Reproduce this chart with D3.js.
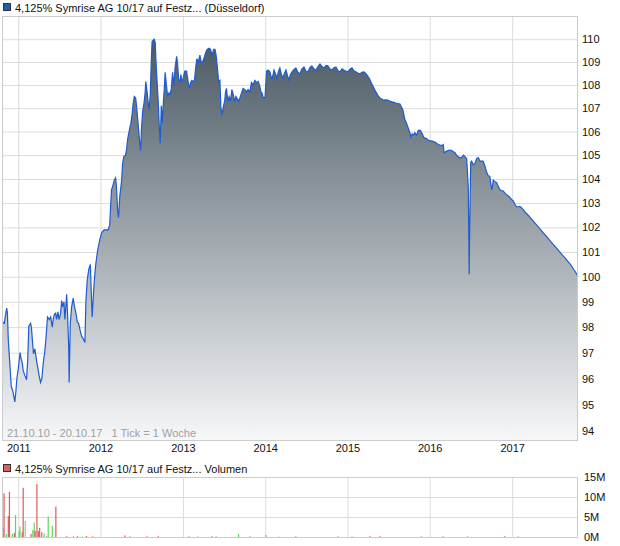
<!DOCTYPE html>
<html>
<head>
<meta charset="utf-8">
<script src="https://cdn.jsdelivr.net/npm/d3@7"></script>
<style>
  body { margin: 0; background: #fff; }
  svg text { font-family: "Liberation Sans", Arial, sans-serif; }
</style>
</head>
<body>
<div id="chart"></div>
<script>
// Price data (weekly ticks)
var priceDates = [
  "2010-10-21","2010-10-24","2010-10-31","2010-11-07","2010-11-11","2010-11-14","2010-11-18","2010-11-26","2010-12-01","2010-12-07",
  "2010-12-14","2010-12-17","2010-12-22","2010-12-26","2011-01-01","2011-01-09","2011-01-13","2011-01-19","2011-01-23","2011-01-31",
  "2011-02-07","2011-02-12","2011-02-17","2011-02-25","2011-03-01","2011-03-06","2011-03-10","2011-03-16","2011-03-24","2011-03-29",
  "2011-04-04","2011-04-10","2011-04-16","2011-04-22","2011-04-29","2011-05-04","2011-05-11","2011-05-19","2011-05-25","2011-06-01",
  "2011-06-05","2011-06-10","2011-06-16","2011-06-20","2011-06-26","2011-07-01","2011-07-08","2011-07-13","2011-07-17","2011-07-23",
  "2011-07-27","2011-08-04","2011-08-08","2011-08-13","2011-08-15","2011-08-20","2011-08-26","2011-09-02","2011-09-08","2011-09-14",
  "2011-09-20","2011-09-26","2011-10-02","2011-10-09","2011-10-16","2011-10-24","2011-10-28","2011-11-03","2011-11-10","2011-11-17",
  "2011-11-25","2011-12-04","2011-12-11","2011-12-20","2011-12-29","2012-01-07","2012-01-17","2012-02-04","2012-02-11","2012-02-14",
  "2012-02-19","2012-02-26","2012-03-02","2012-03-08","2012-03-12","2012-03-17","2012-03-21","2012-03-27","2012-04-04","2012-04-08",
  "2012-04-14","2012-04-21","2012-04-26","2012-04-30","2012-05-06","2012-05-11","2012-05-15","2012-05-21","2012-05-25","2012-05-30",
  "2012-06-05","2012-06-09","2012-06-14","2012-06-18","2012-06-24","2012-06-27","2012-07-01","2012-07-06","2012-07-12","2012-07-17",
  "2012-07-20","2012-07-26","2012-07-31","2012-08-04","2012-08-09","2012-08-13","2012-08-17","2012-08-26","2012-08-31","2012-09-03",
  "2012-09-07","2012-09-13","2012-09-18","2012-09-22","2012-09-27","2012-10-01","2012-10-05","2012-10-10","2012-10-14","2012-10-20",
  "2012-10-25","2012-10-31","2012-11-04","2012-11-10","2012-11-16","2012-11-22","2012-11-27","2012-12-04","2012-12-08","2012-12-13",
  "2012-12-18","2012-12-23","2012-12-27","2013-01-02","2013-01-09","2013-01-17","2013-01-23","2013-01-29","2013-02-04","2013-02-09",
  "2013-02-15","2013-02-21","2013-02-27","2013-03-04","2013-03-09","2013-03-17","2013-03-23","2013-03-29","2013-04-04","2013-04-11",
  "2013-04-18","2013-04-27","2013-05-03","2013-05-11","2013-05-17","2013-05-23","2013-05-28","2013-06-04","2013-06-08","2013-06-14",
  "2013-06-18","2013-06-23","2013-06-28","2013-07-05","2013-07-09","2013-07-13","2013-07-19","2013-07-25","2013-07-31","2013-08-06",
  "2013-08-12","2013-08-18","2013-08-24","2013-08-30","2013-09-05","2013-09-11","2013-09-18","2013-09-25","2013-10-03","2013-10-10",
  "2013-10-17","2013-10-25","2013-11-01","2013-11-08","2013-11-16","2013-11-24","2013-12-01","2013-12-08","2013-12-13","2013-12-18",
  "2013-12-23","2013-12-31","2014-01-07","2014-01-14","2014-01-22","2014-01-31","2014-02-09","2014-02-15","2014-02-22","2014-03-01",
  "2014-03-07","2014-03-14","2014-03-21","2014-03-27","2014-04-03","2014-04-10","2014-04-16","2014-04-23","2014-04-30","2014-05-08",
  "2014-05-17","2014-05-26","2014-06-04","2014-06-13","2014-06-22","2014-07-01","2014-07-10","2014-07-18","2014-07-27","2014-08-05",
  "2014-08-14","2014-08-23","2014-09-01","2014-09-10","2014-09-19","2014-09-28","2014-10-06","2014-10-15","2014-10-24","2014-11-02",
  "2014-11-11","2014-11-20","2014-11-29","2014-12-08","2014-12-16","2014-12-25","2015-01-03","2015-01-12","2015-01-21","2015-01-29",
  "2015-02-07","2015-02-16","2015-02-25","2015-03-06","2015-03-15","2015-03-23","2015-04-01","2015-04-10","2015-04-19","2015-04-28",
  "2015-05-07","2015-05-16","2015-05-25","2015-06-03","2015-06-11","2015-06-20","2015-06-29","2015-07-08","2015-07-17","2015-07-26",
  "2015-08-04","2015-08-13","2015-08-22","2015-09-04","2015-09-13","2015-09-20","2015-10-05","2015-10-09","2015-10-15","2015-10-23",
  "2015-10-27","2015-11-04","2015-11-11","2015-11-21","2015-11-29","2015-12-06","2015-12-18","2015-12-30","2016-01-09","2016-01-24",
  "2016-02-08","2016-02-23","2016-03-01","2016-03-05","2016-03-13","2016-03-23","2016-04-07","2016-04-14","2016-04-22","2016-04-29",
  "2016-05-11","2016-05-22","2016-05-29","2016-06-05","2016-06-13","2016-06-20","2016-06-23","2016-06-24","2016-06-27","2016-07-01",
  "2016-07-05","2016-07-12","2016-07-20","2016-07-27","2016-08-03","2016-08-11","2016-08-25","2016-09-02","2016-09-09","2016-09-16",
  "2016-09-24","2016-09-28","2016-10-03","2016-10-09","2016-10-16","2016-10-24","2016-10-31","2016-11-07","2016-11-15","2016-11-22",
  "2016-11-29","2016-12-07","2016-12-14","2016-12-21","2016-12-29","2017-01-05","2017-01-13","2017-01-20","2017-01-28","2017-02-04",
  "2017-02-17","2017-03-02","2017-03-16","2017-03-29","2017-04-11","2017-04-25","2017-05-08","2017-05-21","2017-06-04","2017-06-17",
  "2017-06-30","2017-07-14","2017-07-27","2017-08-09","2017-08-23","2017-09-05","2017-09-18","2017-10-02","2017-10-11","2017-10-20"
];
var priceValues = [
  98.2, 98.2, 98.15, 98.55, 98.75, 98.55, 97.5, 96.4, 95.7, 95.55,
  95.25, 95.1, 95.55, 96.0, 96.35, 97.0, 96.8, 96.6, 96.3, 96.1,
  95.95, 96.7, 98.05, 98.15, 97.95, 97.35, 96.95, 97.15, 96.65, 96.4,
  96.1, 95.85, 96.0, 96.6, 97.05, 97.55, 98.4, 98.3, 98.4, 98.0,
  98.3, 98.5, 98.55, 98.3, 98.6, 98.3, 98.55, 99.05, 98.8, 99.0,
  98.3, 99.3, 98.5, 97.2, 95.85, 98.15, 98.8, 99.15, 98.8, 98.55,
  98.2, 98.15, 97.9, 97.65, 97.55, 97.4, 98.95, 99.85, 100.3, 100.5,
  98.4, 99.8, 100.5, 101.1, 101.5, 101.8, 101.9, 101.9, 102.1, 102.7,
  103.55, 103.75, 103.95, 104.05, 103.7, 102.7, 102.4, 103.3, 103.95, 104.65,
  104.95, 105.0, 105.25, 105.65, 105.95, 106.2, 106.35, 106.8, 107.2, 107.5,
  107.45, 107.1, 106.55, 106.1, 105.45, 105.2, 106.1, 106.85, 107.2, 107.65,
  108.15, 107.7, 107.2, 106.95, 107.6, 108.9, 109.9, 110.0, 109.85, 109.1,
  108.35, 107.35, 106.2, 105.5, 107.1, 106.35, 107.1, 107.8, 108.55, 107.95,
  107.5, 107.65, 107.6, 107.8, 108.55, 107.95, 108.75, 109.25, 108.95, 108.2,
  108.15, 108.45, 108.1, 108.3, 108.6, 108.6, 108.2, 107.85, 108.1, 108.2,
  108.15, 108.2, 108.8, 109.15, 108.95, 109.3, 109.0, 109.0, 109.15, 109.4,
  109.55, 109.6, 109.55, 109.3, 109.55, 109.55, 109.3, 108.65, 108.15, 108.2,
  107.05, 106.7, 107.0, 107.3, 107.7, 107.85, 107.3, 107.5, 107.3, 107.8,
  107.6, 107.3, 107.5, 107.4, 107.3, 107.45, 107.65, 107.85, 107.8, 107.7,
  107.8, 107.7, 108.1, 108.0, 108.2, 108.1, 108.15, 107.95, 107.7, 107.65,
  107.45, 107.45, 108.6, 108.65, 108.57, 108.22, 108.65, 108.5, 108.3, 108.6,
  108.74, 108.45, 108.3, 108.5, 108.65, 108.4, 108.22, 108.45, 108.57, 108.66,
  108.74, 108.55, 108.48, 108.7, 108.78, 108.6, 108.57, 108.75, 108.83, 108.7,
  108.65, 108.8, 108.91, 108.8, 108.74, 108.85, 108.83, 108.7, 108.65, 108.75,
  108.78, 108.62, 108.57, 108.7, 108.65, 108.6, 108.57, 108.68, 108.74, 108.62,
  108.57, 108.52, 108.48, 108.55, 108.57, 108.5, 108.39, 108.25, 108.04, 107.88,
  107.7, 107.55, 107.44, 107.38, 107.35, 107.36, 107.35, 107.3, 107.27, 107.25,
  107.22, 107.2, 107.18, 106.92, 106.5, 106.35, 105.95, 105.75, 105.9, 105.85,
  105.95, 105.85, 106.05, 106.05, 105.9, 105.75, 105.7, 105.6, 105.6, 105.55,
  105.45, 105.4, 105.45, 105.1, 105.15, 105.2, 105.2, 105.15, 105.1, 105.0,
  104.9, 104.9, 105.0, 104.95, 104.85, 103.7, 101.2, 100.1, 102.4, 104.7,
  104.75, 104.6, 104.65, 104.85, 104.9, 104.75, 104.75, 104.55, 104.3, 104.15,
  104.1, 103.8, 103.55, 103.95, 103.9, 103.85, 103.7, 103.55, 103.52, 103.5,
  103.42, 103.35, 103.3, 103.25, 103.15, 103.1, 102.95, 102.85, 102.85, 102.86,
  102.76, 102.6, 102.47, 102.33, 102.19, 102.04, 101.9, 101.76, 101.61, 101.47,
  101.33, 101.19, 101.04, 100.9, 100.76, 100.62, 100.48, 100.28, 100.16, 100.0
];

// Volume data (millions), dir: r = down, g = up, n = unchanged
var volDates = [
  "2010-10-27","2010-10-30","2010-11-09","2010-11-18","2010-11-23","2010-12-06","2010-12-15","2010-12-20","2011-01-05","2011-01-09",
  "2011-01-19","2011-01-23","2011-02-01","2011-02-27","2011-03-07","2011-03-13","2011-03-17","2011-03-25","2011-03-31","2011-04-06",
  "2011-04-15","2011-04-26","2011-05-07","2011-05-14","2011-06-01","2011-06-17","2011-08-04","2011-09-03","2011-09-21","2011-10-13",
  "2011-10-31","2011-11-27","2012-04-18","2012-05-10","2012-07-25","2012-09-14","2013-01-27","2013-03-08","2013-05-10","2013-05-28",
  "2013-09-05","2013-10-25","2014-01-04","2014-03-07","2014-05-17","2014-11-21","2015-01-21","2015-04-10","2015-05-25","2015-11-25",
  "2016-03-01","2016-06-17","2016-11-29","2017-01-28"
];
var volValues = [
  2.2, 10.9, 0.75, 5.25, 11.3, 0.75, 1.0, 5.5, 1.5, 2.6,
  1.2, 12.3, 4.0, 0.75, 1.75, 3.6, 1.5, 13.25, 1.5, 2.3,
  1.2, 0.9, 0.3, 5.1, 2.8, 7.6, 0.2, 0.15, 0.2, 0.1,
  0.25, 0.15, 0.4, 0.15, 0.2, 0.2, 0.2, 0.15, 0.2, 0.2,
  0.7, 0.15, 0.5, 0.1, 0.15, 0.15, 0.15, 0.2, 0.2, 0.15,
  0.2, 0.15, 0.2, 0.15
];
var volDir = [
  "n","r","g","r","r","g","r","g","g","g",
  "r","r","n","r","g","g","r","r","r","r",
  "r","g","n","g","g","r","r","r","r","g",
  "r","r","r","r","r","r","g","g","r","g",
  "g","r","g","g","r","r","g","r","r","r",
  "g","r","r","r"
];

var yTicks = [94, 95, 96, 97, 98, 99, 100, 101, 102, 103, 104, 105, 106, 107, 108, 109, 110];
var volTicks = [0, 5, 10, 15];
var dateRangeText = "21.10.10 - 20.10.17   1 Tick = 1 Woche";
var priceTitle = "4,125% Symrise AG 10/17 auf Festz... (Düsseldorf)";
var volTitle = "4,125% Symrise AG 10/17 auf Festz... Volumen";

var parseDate = d3.timeParse("%Y-%m-%d");
var priceData = priceDates.map(function(d, i) { return {date: parseDate(d), value: priceValues[i]}; });
var volData = volDates.map(function(d, i) { return {date: parseDate(d), value: volValues[i], dir: volDir[i]}; });

var width = 620, height = 546;
var plot = {left: 2, right: 578, top: 16, bottom: 440};
var vplot = {top: 477, bottom: 537};

var svg = d3.select('#chart')
  .append('svg')
    .attr('width', width)
    .attr('height', height);

var x = d3.scaleTime()
  .domain([parseDate("2010-10-21"), parseDate("2017-10-20")])
  .range([plot.left, plot.right]);

var y = d3.scaleLog()
  .domain([93.66, 111.03])
  .range([plot.bottom, plot.top]);

var yVol = d3.scaleLinear()
  .domain([0, 15])
  .range([vplot.bottom, vplot.top]);

// Gradient for the area
var grad = svg.append("defs").append("linearGradient")
  .attr("id", "areaGrad")
  .attr("gradientUnits", "userSpaceOnUse")
  .attr("x1", 0).attr("x2", 0)
  .attr("y1", y(110)).attr("y2", plot.bottom);
grad.append("stop").attr("offset", "0%").attr("stop-color", "#4b5a64");
grad.append("stop").attr("offset", "100%").attr("stop-color", "#f6f7f9");

// Titles
function legendTitle(ty, color, text) {
  svg.append("rect")
    .attr("x", 3.5).attr("y", ty - 8.5)
    .attr("width", 7).attr("height", 7)
    .attr("fill", color)
    .attr("stroke", "#333")
    .attr("stroke-width", 1);
  svg.append("text")
    .attr("x", 15).attr("y", ty)
    .style("font-size", "11px")
    .attr("fill", "#111")
    .text(text);
}
legendTitle(12, "#2457b8", priceTitle);
legendTitle(473, "#dd5f5a", volTitle);

// Price y axis with gridlines
var yAxis = svg.append("g")
  .attr("transform", `translate(${plot.right},0)`)
  .call(d3.axisRight(y)
    .tickValues(yTicks)
    .tickFormat(d3.format("d"))
    .tickSize(-(plot.right - plot.left))
    .tickPadding(4));
yAxis.select(".domain").remove();
yAxis.selectAll("line").attr("stroke", "#dcdcdc");
yAxis.selectAll("text").style("font-size", "11px").attr("fill", "#111");

// Price x axis with gridlines
var xAxis = svg.append("g")
  .attr("transform", `translate(0,${plot.bottom})`)
  .call(d3.axisBottom(x)
    .ticks(d3.timeYear)
    .tickFormat(d3.timeFormat("%Y"))
    .tickSize(-(plot.bottom - plot.top))
    .tickPadding(4));
xAxis.select(".domain").remove();
xAxis.selectAll("line").attr("stroke", "#dcdcdc");
xAxis.selectAll("text").style("font-size", "11px").attr("fill", "#111");

// Area + line
var area = d3.area()
  .x(d => x(d.date))
  .y0(plot.bottom)
  .y1(d => y(d.value));
var line = d3.line()
  .x(d => x(d.date))
  .y(d => y(d.value));

svg.append("path")
  .datum(priceData)
  .attr("fill", "url(#areaGrad)")
  .attr("d", area);
svg.append("path")
  .datum(priceData)
  .attr("fill", "none")
  .attr("stroke", "#1f5bd0")
  .attr("stroke-width", 1.2)
  .attr("d", line);

// Frame
svg.append("rect")
  .attr("x", plot.left + 0.5).attr("y", plot.top + 0.5)
  .attr("width", plot.right - plot.left - 1).attr("height", plot.bottom - plot.top)
  .attr("fill", "none")
  .attr("stroke", "#cccccc");

svg.append("text")
  .attr("x", 7).attr("y", 437)
  .style("font-size", "11px")
  .attr("fill", "#a0a0a0")
  .attr("xml:space", "preserve")
  .text(dateRangeText);

// Volume panel
var vyAxis = svg.append("g")
  .attr("transform", `translate(${plot.right},0)`)
  .call(d3.axisRight(yVol)
    .tickValues(volTicks)
    .tickFormat(d => d + "M")
    .tickSize(-(plot.right - plot.left))
    .tickPadding(6));
vyAxis.select(".domain").remove();
vyAxis.selectAll("line").attr("stroke", "#dcdcdc");
vyAxis.selectAll("text").style("font-size", "11px").attr("fill", "#111");

var vxAxis = svg.append("g")
  .attr("transform", `translate(0,${vplot.bottom})`)
  .call(d3.axisBottom(x)
    .ticks(d3.timeYear)
    .tickFormat("")
    .tickSize(-(vplot.bottom - vplot.top)));
vxAxis.select(".domain").remove();
vxAxis.selectAll("line").attr("stroke", "#dcdcdc");

var volColors = {r: "#e05a5a", g: "#5cd65c", n: "#b5b5b5"};
svg.append("g").selectAll("rect")
  .data(volData)
  .join("rect")
    .attr("x", d => x(d.date) - 0.6)
    .attr("y", d => yVol(d.value))
    .attr("width", 1.2)
    .attr("height", d => Math.max(1, vplot.bottom - yVol(d.value)))
    .attr("fill", d => volColors[d.dir]);

svg.append("rect")
  .attr("x", plot.left + 0.5).attr("y", vplot.top + 0.5)
  .attr("width", plot.right - plot.left - 1).attr("height", vplot.bottom - vplot.top)
  .attr("fill", "none")
  .attr("stroke", "#cccccc");
</script>
</body>
</html>
